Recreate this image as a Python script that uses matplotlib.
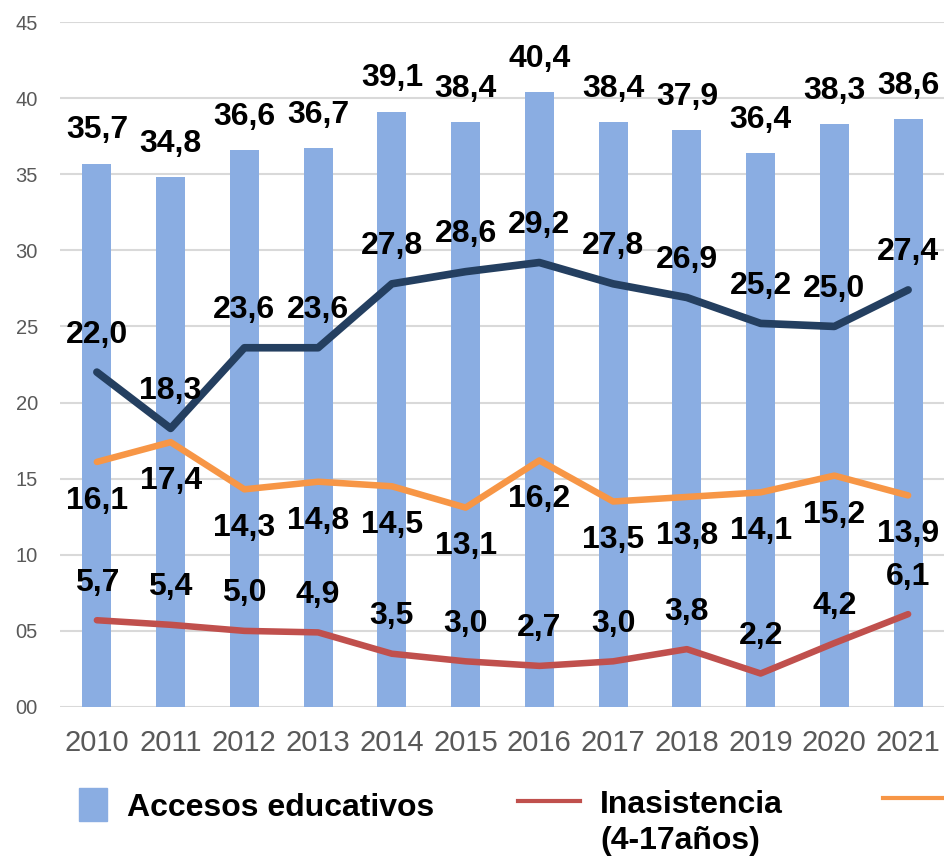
import numpy as np
import matplotlib
matplotlib.use("Agg")
import matplotlib.pyplot as plt
from matplotlib.patches import Rectangle
from matplotlib.lines import Line2D

plt.rcParams['font.family'] = ['Liberation Sans', 'DejaVu Sans']

# datos
years = ['2010', '2011', '2012', '2013', '2014', '2015', '2016', '2017', '2018', '2019', '2020', '2021']
accesos = [35.7, 34.8, 36.6, 36.7, 39.1, 38.4, 40.4, 38.4, 37.9, 36.4, 38.3, 38.6]
serie_azul = [22.0, 18.3, 23.6, 23.6, 27.8, 28.6, 29.2, 27.8, 26.9, 25.2, 25.0, 27.4]
serie_naranja = [16.1, 17.4, 14.3, 14.8, 14.5, 13.1, 16.2, 13.5, 13.8, 14.1, 15.2, 13.9]
inasistencia = [5.7, 5.4, 5.0, 4.9, 3.5, 3.0, 2.7, 3.0, 3.8, 2.2, 4.2, 6.1]
yticks = [0, 5, 10, 15, 20, 25, 30, 35, 40, 45]
ytick_labels = ['00', '05', '10', '15', '20', '25', '30', '35', '40', '45']

W, H = 945, 858
fig = plt.figure(figsize=(W / 100, H / 100), dpi=100)
ax = fig.add_axes([60 / W, (H - 707) / H, 885 / W, 685 / H])

x = np.arange(len(years))
c_bar = '#8AADE2'
c_azul = '#243F60'
c_nar = '#F79646'
c_roj = '#C0504D'

ax.bar(x, accesos, width=0.39, color=c_bar, zorder=2)
ax.plot(x, serie_azul, color=c_azul, lw=5.5, solid_capstyle='round', solid_joinstyle='round', zorder=3)
ax.plot(x, serie_naranja, color=c_nar, lw=4.7, solid_capstyle='round', solid_joinstyle='round', zorder=3)
ax.plot(x, inasistencia, color=c_roj, lw=4.7, solid_capstyle='round', solid_joinstyle='round', zorder=3)

lab = dict(ha='center', va='center', fontsize=23, fontweight='bold', color='black', zorder=5,
           textcoords='offset points')
fmt = lambda v: f'{v:.1f}'.replace('.', ',')
for i in range(len(years)):
    ax.annotate(fmt(accesos[i]), (x[i], accesos[i]), xytext=(0, 24), **lab)
    ax.annotate(fmt(serie_azul[i]), (x[i], serie_azul[i]), xytext=(0, 27), **lab)
    ax.annotate(fmt(serie_naranja[i]), (x[i], serie_naranja[i]), xytext=(0, -28), **lab)
    ax.annotate(fmt(inasistencia[i]), (x[i], inasistencia[i]), xytext=(0, 27), **lab)

ax.set_xlim(-0.5, 11.5)
ax.set_ylim(0, 45)
ax.set_yticks(yticks)
ax.set_yticklabels(ytick_labels)
ax.set_xticks(x)
ax.set_xticklabels(years)
ax.tick_params(axis='y', length=0, pad=16, labelsize=14.5, labelcolor='#595959')
ax.tick_params(axis='x', length=0, pad=16, labelsize=21, labelcolor='#595959')
ax.grid(axis='y', color='#D9D9D9', lw=1.5, zorder=0)
ax.set_axisbelow(True)
for s in ax.spines.values():
    s.set_visible(False)

# leyenda dibujada a mano (cortada a la derecha como en el original)
def fx(px):
    return px / W

def fy(py):
    return (H - py) / H

fig.patches.append(Rectangle((fx(79), fy(821)), fx(107) - fx(79), fy(788) - fy(821),
                             transform=fig.transFigure, color=c_bar))
fig.text(fx(127), fy(816), 'Accesos educativos', fontsize=23, fontweight='bold', va='baseline')
fig.lines.append(Line2D([fx(518), fx(580)], [fy(801), fy(801)], transform=fig.transFigure,
                        color=c_roj, lw=3))
fig.text(fx(600), fy(813), 'Inasistencia', fontsize=23, fontweight='bold', va='baseline')
fig.text(fx(600), fy(849), '(4-17años)', fontsize=23, fontweight='bold', va='baseline')
fig.lines.append(Line2D([fx(883), fx(950)], [fy(798), fy(798)], transform=fig.transFigure,
                        color=c_nar, lw=3))

fig.savefig('out.png', dpi=100)
